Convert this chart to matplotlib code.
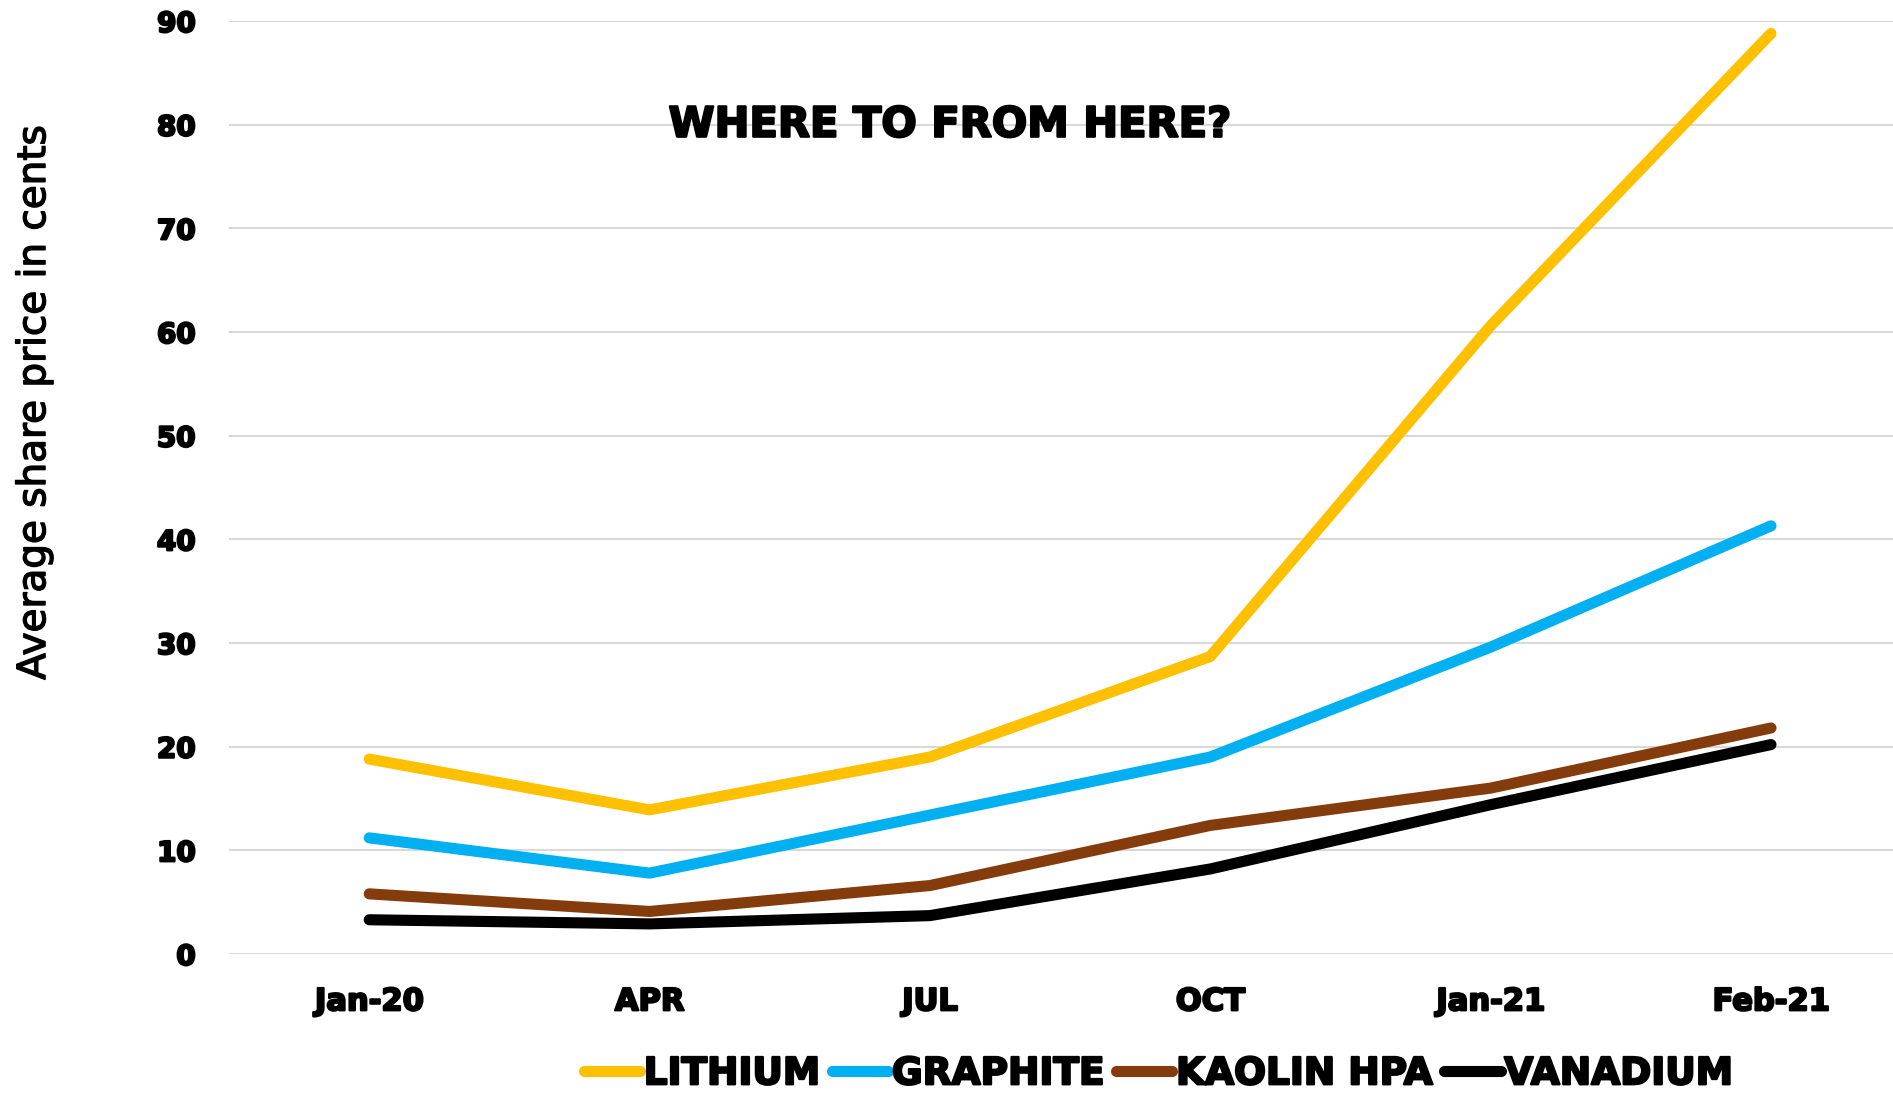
import matplotlib.pyplot as plt
import matplotlib.patheffects as pe

periods = ['Jan-20', 'APR', 'JUL', 'OCT', 'Jan-21', 'Feb-21']
lithium = [18.8, 13.9, 19.0, 28.7, 60.6, 88.8]
graphite = [11.2, 7.8, 13.4, 19.0, 29.6, 41.3]
kaolin_hpa = [5.8, 4.1, 6.6, 12.4, 16.0, 21.8]
vanadium = [3.3, 2.9, 3.7, 8.2, 14.4, 20.2]

series = [('LITHIUM', lithium, '#FFC000'),
          ('GRAPHITE', graphite, '#00B0F0'),
          ('KAOLIN HPA', kaolin_hpa, '#843C0C'),
          ('VANADIUM', vanadium, '#000000')]

heavy = ['DejaVu Sans', 'Liberation Sans']
narrow = ['DejaVu Sans Condensed', 'Liberation Sans Narrow', 'DejaVu Sans']
fat = [pe.withStroke(linewidth=1.6, foreground='black')]

fig = plt.figure(figsize=(18.93, 10.94), dpi=100)
ax = fig.add_axes([0.121, 0.128, 0.8886, 0.8528])

x = range(len(periods))
for name, vals, col in series:
    ax.plot(x, vals, color=col, lw=8, solid_capstyle='round',
            solid_joinstyle='round', label=name, zorder=3)

ax.set_xlim(-0.5, 5.5)
ax.set_ylim(0, 90)
ax.set_yticks(range(0, 91, 10))
ax.set_xticks(list(x))
ax.set_xticklabels(periods)
ax.grid(axis='y', color='#D9D9D9', lw=1.5, zorder=0)
for s in ax.spines.values():
    s.set_visible(False)
ax.tick_params(length=0)
ax.tick_params(axis='y', pad=24)
ax.tick_params(axis='x', pad=24)
for lab in ax.get_yticklabels():
    lab.set_fontfamily(heavy)
    lab.set_fontweight('heavy')
    lab.set_fontsize(20)
    lab.set_path_effects(fat)
for lab in ax.get_xticklabels():
    lab.set_fontfamily(narrow)
    lab.set_fontweight('bold')
    lab.set_fontsize(22)
    lab.set_path_effects(fat)

ylab = fig.text(0.018, 0.632, 'Average share price in cents', rotation=90,
                ha='center', va='center', fontsize=28, family=narrow)
ylab.set_path_effects([pe.withStroke(linewidth=1.0, foreground='black')])

fig.text(0.502, 0.886, 'WHERE TO FROM HERE?', ha='center', va='center',
         fontsize=30, fontweight='heavy', family=heavy, path_effects=fat)

leg = fig.legend(loc='center', bbox_to_anchor=(0.612, 0.018), ncol=4,
                 frameon=False, handlelength=1.5, handletextpad=0.1,
                 columnspacing=0.3,
                 prop={'family': narrow, 'weight': 'bold', 'size': 27})
for h in leg.get_lines():
    h.set_linewidth(8)
    h.set_solid_capstyle('round')
for t in leg.get_texts():
    t.set_path_effects(fat)

fig.savefig('out.png', dpi=100)
